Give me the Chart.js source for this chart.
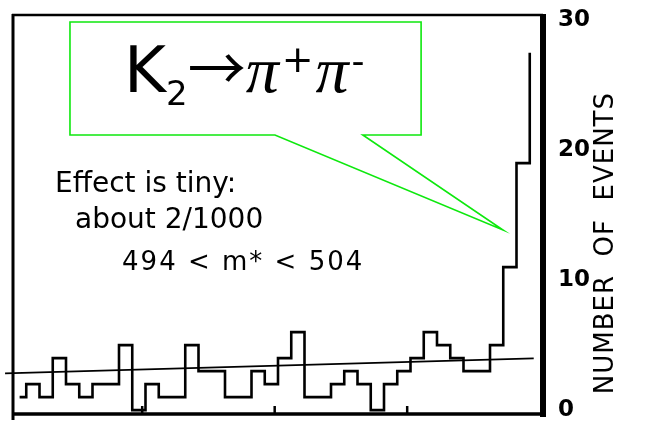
<!DOCTYPE html>
<html>
<head>
<meta charset="utf-8">
<script src="https://cdn.jsdelivr.net/npm/chart.js@4.4.0/dist/chart.umd.min.js"></script>
<style>
  html, body { margin: 0; padding: 0; background: #fff; }
</style>
</head>
<body>
<canvas id="histChart" width="645" height="425"></canvas>
<script>
// left edge of every bin; the last entry is the rising edge of the final bin
const binEdges = [0.5, 1, 2, 3, 4, 5, 6, 7, 8, 9, 10, 11, 12, 13, 14, 15, 16, 17, 18, 19,
  20, 21, 22, 23, 24, 25, 26, 27, 28, 29, 30, 31, 32, 33, 34, 35, 36, 37, 38, 39];
const eventCounts = [1, 2, 1, 4, 2, 1, 2, 2, 5, 0, 2, 1, 1, 5, 3, 3, 1, 1, 3, 2,
  4, 6, 1, 1, 2, 3, 2, 0, 2, 3, 4, 6, 5, 4, 3, 3, 5, 11, 19, 27.5];

// background fit
const fitLineX = [-0.6, 39.3];
const fitLineY = [2.82, 3.98];

const yTickValues = [0, 10, 20, 30];
const xTickValues = [9.75, 19.75, 29.75];
const yAxisTitle = 'NUMBER  OF  EVENTS';

const GREEN = '#0ee80e';

// frame with uneven line weights + small inward ticks on the bottom edge
const framePlugin = {
  id: 'frame',
  afterDatasetsDraw(chart) {
    const { ctx, chartArea: a, scales } = chart;
    ctx.save();
    ctx.strokeStyle = '#000';
    ctx.lineCap = 'butt';

    ctx.lineWidth = 3;
    ctx.beginPath(); ctx.moveTo(a.left, a.top - 1); ctx.lineTo(a.left, a.bottom + 6); ctx.stroke();
    ctx.lineWidth = 2.5;
    ctx.beginPath(); ctx.moveTo(a.left - 1, a.top); ctx.lineTo(a.right, a.top); ctx.stroke();
    ctx.lineWidth = 3.5;
    ctx.beginPath(); ctx.moveTo(a.left - 1, a.bottom); ctx.lineTo(a.right + 3, a.bottom); ctx.stroke();
    ctx.lineWidth = 6;
    ctx.beginPath(); ctx.moveTo(a.right, a.top - 1); ctx.lineTo(a.right, a.bottom + 3); ctx.stroke();

    ctx.lineWidth = 2.5;
    xTickValues.forEach(v => {
      const x = scales.x.getPixelForValue(v);
      ctx.beginPath(); ctx.moveTo(x, a.bottom); ctx.lineTo(x, a.bottom - 8); ctx.stroke();
    });
    ctx.restore();
  }
};

// callout box, notes and the rotated axis title
const notesPlugin = {
  id: 'notes',
  afterDraw(chart) {
    const { ctx, scales } = chart;
    const px = v => scales.x.getPixelForValue(v);
    const py = v => scales.y.getPixelForValue(v);
    ctx.save();

    // speech-bubble outline
    ctx.strokeStyle = GREEN;
    ctx.lineWidth = 1.6;
    ctx.lineJoin = 'miter';
    ctx.beginPath();
    ctx.moveTo(px(19.77), py(21.17));
    ctx.lineTo(px(4.3), py(21.17));
    ctx.lineTo(px(4.3), py(29.86));
    ctx.lineTo(px(30.8), py(29.86));
    ctx.lineTo(px(30.8), py(21.17));
    ctx.lineTo(px(26.4), py(21.17));
    ctx.lineTo(px(36.98), py(13.86));
    ctx.closePath();
    ctx.stroke();

    // K2 -> pi+ pi-
    ctx.fillStyle = '#000';
    ctx.textBaseline = 'alphabetic';
    ctx.textAlign = 'left';
    const runs = [
      { text: 'K', font: '64px "DejaVu Sans"', dy: 0, gap: 0 },
      { text: '2', font: '34px "DejaVu Sans"', dy: 13, gap: 0 },
      { text: '\u2192', font: '58px "Noto Sans CJK JP"', dy: -2, gap: 0 },
      { text: '\u03C0', font: 'italic 66px "Liberation Serif"', dy: 0, gap: 3 },
      { text: '+', font: '38px "DejaVu Sans"', dy: -20, gap: 2 },
      { text: '\u03C0', font: 'italic 66px "Liberation Serif"', dy: 0, gap: 3 },
      { text: '-', font: '36px "DejaVu Sans"', dy: -19, gap: 0 }
    ];
    let tx = px(8.38);
    const ty = py(24.48);
    runs.forEach(r => {
      ctx.font = r.font;
      ctx.fillText(r.text, tx, ty + r.dy);
      tx += ctx.measureText(r.text).width + r.gap;
    });

    ctx.font = '28px "DejaVu Sans"';
    ctx.fillText('Effect is tiny:', px(3.17), py(16.78));
    ctx.fillText('about 2/1000', px(4.68), py(14.02));

    // mass window, widely spaced lettering
    ctx.font = '26px "DejaVu Sans"';
    ctx.letterSpacing = '2px';
    ctx.fillText('494 < m* < 504', px(8.23), py(10.78));
    ctx.letterSpacing = '0px';

    // right-hand axis title, reading bottom to top
    ctx.save();
    ctx.translate(613, py(12.85));
    ctx.rotate(-Math.PI / 2);
    ctx.font = '26px "DejaVu Sans"';
    ctx.letterSpacing = '1px';
    ctx.textAlign = 'center';
    ctx.fillText(yAxisTitle, 0, 0);
    ctx.restore();

    ctx.restore();
  }
};

new Chart(document.getElementById('histChart').getContext('2d'), {
  type: 'line',
  data: {
    datasets: [
      {
        data: binEdges.map((x, i) => ({ x: x, y: eventCounts[i] })),
        stepped: 'before',
        borderColor: '#000',
        borderWidth: 2.6,
        pointRadius: 0,
        fill: false
      },
      {
        data: fitLineX.map((x, i) => ({ x: x, y: fitLineY[i] })),
        borderColor: '#000',
        borderWidth: 1.8,
        pointRadius: 0,
        fill: false,
        clip: false
      }
    ]
  },
  options: {
    responsive: false,
    animation: false,
    layout: { padding: { left: 13, top: 15, bottom: 11, right: 0 } },
    plugins: {
      legend: { display: false },
      tooltip: { enabled: false }
    },
    scales: {
      x: { type: 'linear', min: 0, max: 40, display: false },
      y: {
        position: 'right',
        min: -0.3,
        max: 30.4,
        grid: { display: false, drawTicks: false },
        border: { display: false },
        afterBuildTicks: s => { s.ticks = yTickValues.map(v => ({ value: v })); },
        afterFit: s => {
          s.width = 102;
          s.paddingTop = 0;
          s.paddingBottom = 0;
        },
        ticks: {
          padding: 15,
          color: '#000',
          font: { family: '"DejaVu Sans"', size: 23, weight: 'bold' }
        }
      }
    }
  },
  plugins: [framePlugin, notesPlugin]
});
</script>
</body>
</html>
